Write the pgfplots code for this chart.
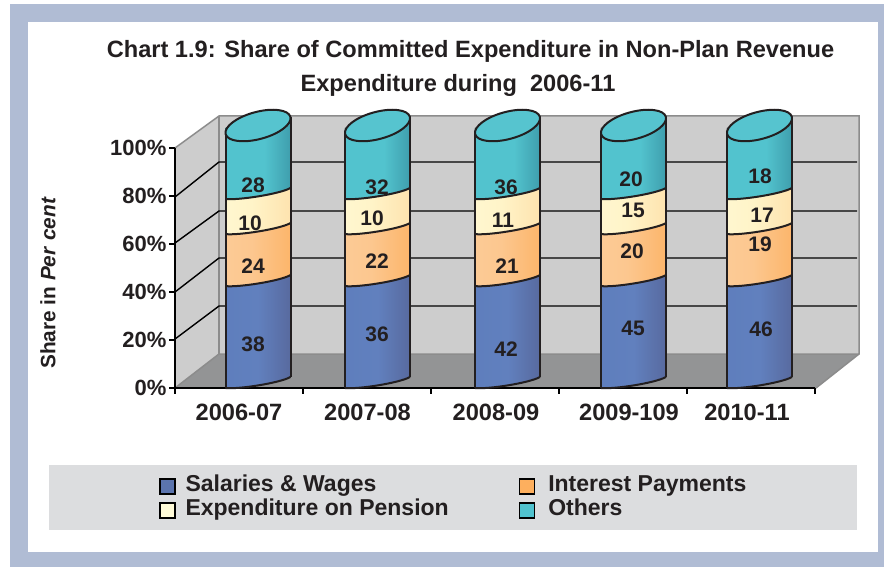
\documentclass[border=0pt]{standalone}
\usepackage{pgfplots}
\usepackage{pgfplotstable}
\usepackage{fontspec}
\setmainfont{Liberation Sans}
\pgfplotsset{compat=1.18}
\definecolor{ink}{HTML}{231F20}
\definecolor{frameblue}{HTML}{B0BCD4}
\definecolor{wallgray}{HTML}{CDCDCD}
\definecolor{floorgray}{HTML}{939495}
\definecolor{edgegray}{HTML}{8C8C8C}
\definecolor{panelgray}{HTML}{DCDDDF}
\definecolor{legblue}{HTML}{5B74AE}
\definecolor{legorange}{HTML}{FDAF5E}
\definecolor{legcream}{HTML}{FFFBD8}
\definecolor{legteal}{HTML}{50C2CE}
\definecolor{topteal}{HTML}{56C4CF}
\definecolor{b1}{HTML}{5C7CBC}\definecolor{b2}{HTML}{6180BE}\definecolor{b3}{HTML}{4F5480}
\definecolor{o1}{HTML}{FCCF9E}\definecolor{o2}{HTML}{FCC78F}\definecolor{o3}{HTML}{FDA74D}
\definecolor{c1}{HTML}{FFF9D8}\definecolor{c2}{HTML}{FFF4C8}\definecolor{c3}{HTML}{FDD59A}
\definecolor{t1}{HTML}{52C3CE}\definecolor{t2}{HTML}{52C3CE}\definecolor{t3}{HTML}{3A95A5}\definecolor{t4}{HTML}{1F6C80}
\pgfdeclarehorizontalshading{cylblue}{100bp}{color(0bp)=(b1);color(50bp)=(b2);color(100bp)=(b3)}
\pgfdeclarehorizontalshading{cylorange}{100bp}{color(0bp)=(o1);color(45bp)=(o2);color(100bp)=(o3)}
\pgfdeclarehorizontalshading{cylcream}{100bp}{color(0bp)=(c1);color(45bp)=(c2);color(100bp)=(c3)}
\pgfdeclarehorizontalshading{cylteal}{100bp}{color(0bp)=(t1);color(55bp)=(t2);color(80bp)=(t3);color(100bp)=(t4)}
% face of a cylinder segment, origin at the right end of its lower arc; #3 = height in pt
\newcommand{\segmark}[3]{\pgfdeclareplotmark{#1}{%
  \path[shading=#2] (32.5pt,0pt) .. controls (22pt,-6pt) and (-20pt,-12.5pt) .. (-32.5pt,-11pt)
     -- (-32.5pt,#3pt-11pt) .. controls (-20pt,#3pt-12.5pt) and (22pt,#3pt-6pt) .. (32.5pt,#3pt) -- cycle;
  \draw[ink,line width=2pt] (32.5pt,0pt) .. controls (22pt,-6pt) and (-20pt,-12.5pt) .. (-32.5pt,-11pt);}}
\segmark{arcblue}{cylblue}{102}
\segmark{arcorange}{cylorange}{52}
\segmark{arccream}{cylcream}{35}
\segmark{arcteal}{cylteal}{71}
% top ellipse and the two sides (260pt = 100 per cent on the bar axis)
\pgfdeclareplotmark{cyltop}{%
  \draw[ink,line width=2pt] (32.5pt,0pt) -- (32.5pt,-260pt);
  \draw[ink,line width=2pt] (-32.5pt,-17pt) -- (-32.5pt,-271pt);
  \draw[ink,line width=2pt,fill=topteal] (32.36pt,0.17pt)
    .. controls (30.42pt,7.43pt) and (14.35pt,9.43pt) .. (-3.52pt,4.64pt)
    .. controls (-21.39pt,-0.15pt) and (-34.3pt,-9.91pt) .. (-32.36pt,-17.17pt)
    .. controls (-30.42pt,-24.43pt) and (-14.35pt,-26.43pt) .. (3.52pt,-21.64pt)
    .. controls (21.39pt,-16.85pt) and (34.3pt,-7.09pt) .. (32.36pt,0.17pt) -- cycle;}
\pgfplotstableread{
x   y    lab
253 12.7 38
253 42.7 24
250 59.2 10
253 73.8 28
377 16.5 36
377 44.6 22
372 61.2 10
377 73.1 32
506 10.8 42
507 42.7 21
503 60.4 11
506 73.1 36
633 18.8 45
632 48.5 20
633 64.2 15
631 76.2 20
761 18.5 46
760 51.2 19
762 62.3 17
760 77.3 18
}\labelsT
\pgfplotsset{
  frameaxis/.style={scale only axis,width=884pt,height=567pt,at={(0pt,0pt)},anchor=south west,
    xmin=0,xmax=884,hide axis,clip=false},
  baraxis/.style={frameaxis,ymin=-73.0769,ymax=145}}
% one stacked column: x position and the four segment heights
\newcommand{\column}[5]{%
\begin{axis}[baraxis,ybar stacked,bar width=65pt,bar shift=0pt]
\addplot[draw=none,shading=cylblue] coordinates {(#1,#2)};
\addplot[draw=none,shading=cylorange] coordinates {(#1,#3)};
\addplot[draw=none,shading=cylcream] coordinates {(#1,#4)};
\addplot[draw=none,shading=cylteal] coordinates {(#1,#5)};
\end{axis}}
\begin{document}
\begin{tikzpicture}
\path[use as bounding box] (0pt,0pt) rectangle (884pt,567pt);
% backdrop in pixel coordinates
\begin{axis}[frameaxis,ymin=0,ymax=567,y dir=reverse]
\fill[frameblue] (axis cs:10,4) rectangle (axis cs:884,567);
\fill[white] (axis cs:28,22) rectangle (axis cs:878,552);
\fill[wallgray] (axis cs:175,148) -- (axis cs:219,116) -- (axis cs:859,116) -- (axis cs:859,354) -- (axis cs:219,354) -- (axis cs:175,388) -- cycle;
\fill[floorgray] (axis cs:175,388) -- (axis cs:219,354) -- (axis cs:859,354) -- (axis cs:816,388) -- cycle;
\draw[edgegray,line width=1.5pt] (axis cs:175,148) -- (axis cs:219,116) -- (axis cs:859,116) -- (axis cs:859,354) -- (axis cs:816,388);
\draw[edgegray,line width=1.5pt] (axis cs:175,388) -- (axis cs:219,354) -- (axis cs:859,354);
\draw[edgegray,line width=1.2pt] (axis cs:219,116) -- (axis cs:219,354);
\draw[edgegray,line width=1.5pt] (axis cs:687,388) -- (axis cs:816,388);
\foreach \f/\b in {197/162,243/211,292/258,339/306}{
  \edef\tmp{\noexpand\draw[black,line width=1.4pt] (axis cs:175,\f) -- (axis cs:219,\b) -- (axis cs:857,\b);}\tmp
}
\fill[panelgray] (axis cs:49,465) rectangle (axis cs:857,530);
\node[font=\bfseries\fontsize{23.6}{26}\selectfont,text=ink,anchor=base] at (axis cs:470.5,58)
  {Chart 1.9: Share of Committed Expenditure in Non-Plan Revenue};
\node[font=\bfseries\fontsize{23.6}{26}\selectfont,text=ink,anchor=base] at (axis cs:458,92)
  {Expenditure during\ \ 2006-11};
\node[font=\bfseries\fontsize{20.8}{24}\selectfont,text=ink,rotate=90] at (axis cs:48,283) {Share in \textit{Per} \textit{cent}};
\end{axis}
% the value axis at the front of the box
\begin{axis}[scale only axis,width=640pt,height=240pt,at={(175pt,179pt)},anchor=south west,
  xmin=175,xmax=815,ymin=0,ymax=100,
  axis x line=bottom,axis y line=left,axis line style={-,line width=1.6pt,black},
  xtick={175,303,431,559,687,815},xticklabels={},
  ytick={0,20,40,60,80,100},yticklabels={0\%,20\%,40\%,60\%,80\%,100\%},
  tick style={black,line width=1.4pt},tick align=outside,major tick length=6pt,
  extra x ticks={239,367.5,496,629,747},
  extra x tick labels={2006-07,2007-08,2008-09,2009-109,2010-11},
  extra x tick style={major tick length=0pt,tick label style={yshift=-12pt,font=\bfseries\fontsize{23.6}{26}\selectfont}},
  tick label style={font=\bfseries\fontsize{22}{26}\selectfont,text=ink},
  y tick label style={xshift=1pt},
  ]
\addplot[draw=none,forget plot] coordinates {(175,0) (815,100)};
\end{axis}
% the stacks (the top segment stops at the left end of the cap, the cap mark closes it)
\column{258}{39.2}{20.0}{13.5}{20.4}
\column{377.5}{39.2}{20.0}{13.5}{20.4}
\column{507.5}{39.2}{20.0}{13.5}{20.4}
\column{633.5}{39.2}{20.0}{13.5}{20.4}
\column{759.5}{39.2}{20.0}{13.5}{20.4}
% segment boundaries, cylinder top and value labels
\begin{axis}[baraxis,
  legend columns=2,
  legend cell align=left,
  legend style={at={(axis cs:159,-37.5)},anchor=north west,draw=none,fill=none,inner sep=0pt,outer sep=0pt,
    font=\bfseries\fontsize{23}{26}\selectfont,text=ink,
    nodes={inner sep=0pt,text height=17pt,text depth=7pt},
    /tikz/column 1/.style={column sep=10pt},
    /tikz/column 2/.style={column sep=70pt},
    /tikz/column 3/.style={column sep=13pt}},
  legend image code/.code={\path[draw=black,line width=1.5pt,#1] (0pt,-7.5pt) rectangle (15pt,7.5pt);},
  ]
\addplot[only marks,mark=arcblue,forget plot] coordinates {(258,0) (377.5,0) (507.5,0) (633.5,0) (759.5,0)};
\addplot[only marks,mark=arcorange,forget plot] coordinates {(258,39.2) (377.5,39.2) (507.5,39.2) (633.5,39.2) (759.5,39.2)};
\addplot[only marks,mark=arccream,forget plot] coordinates {(258,59.2) (377.5,59.2) (507.5,59.2) (633.5,59.2) (759.5,59.2)};
\addplot[only marks,mark=arcteal,forget plot] coordinates {(258,72.7) (377.5,72.7) (507.5,72.7) (633.5,72.7) (759.5,72.7)};
\addplot[only marks,mark=cyltop,forget plot] coordinates {(258,100) (377.5,100) (507.5,100) (633.5,100) (759.5,100)};
\addplot[draw=none,mark=none,forget plot,point meta=explicit symbolic,
  nodes near coords,
  every node near coord/.style={anchor=center,inner sep=0pt,text=ink,font=\bfseries\fontsize{21}{24}\selectfont}]
  table[x=x,y=y,meta=lab] {\labelsT};
\addlegendimage{fill=legblue}\addlegendentry{Salaries \& Wages}
\addlegendimage{fill=legorange}\addlegendentry{Interest Payments}
\addlegendimage{fill=legcream}\addlegendentry{Expenditure on Pension}
\addlegendimage{fill=legteal}\addlegendentry{Others}
\end{axis}
\end{tikzpicture}
\end{document}
